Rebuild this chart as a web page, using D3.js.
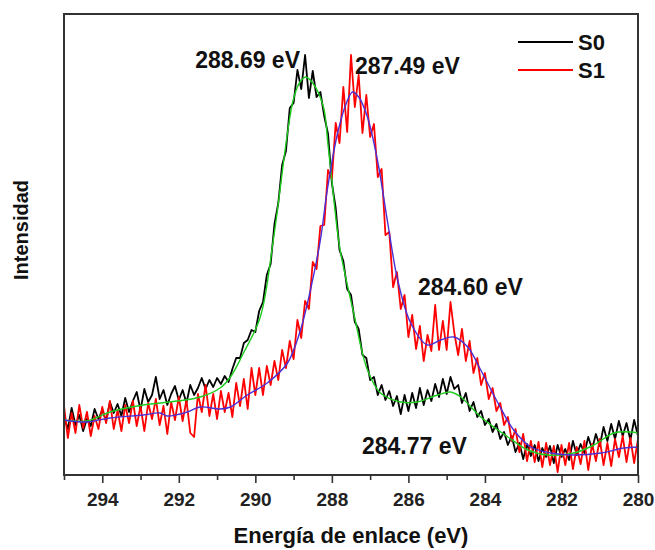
<!DOCTYPE html>
<html>
<head>
<meta charset="utf-8">
<script src="https://cdn.jsdelivr.net/npm/d3@7"></script>
<style>
    body { margin: 0; background: #fff; }
    svg { font-family: "Liberation Sans", Arial, sans-serif; font-weight: bold; }
    .axis text { font-size: 19px; font-weight: bold; fill: #222; }
    .axis line { stroke: #333; stroke-width: 1.6; }
    .axis path { display: none; }
</style>
</head>
<body>
<div id="chart"></div>
<script>
// binding energy grid (eV), 0.1 eV step from 295 down to 280
var energy = d3.range(0, 151).map(function(i) { return +(295 - i * 0.1).toFixed(1); });

// S0 raw spectrum (a.u.)
var s0Raw = [
    58, 46, 67, 50, 60, 44, 56, 49, 66, 56,
    65, 54, 73, 62, 71, 59, 77, 63, 74, 83,
    65, 86, 73, 80, 98, 76, 85, 70, 81, 89,
    75, 85, 72, 90, 80, 87, 97, 86, 95, 88,
    97, 91, 99, 93, 106, 117, 117, 132, 135, 145,
    143, 164, 173, 200, 211, 251, 272, 310, 324, 367,
    372, 405, 386, 420, 377, 404, 378, 383, 359, 341,
    292, 267, 225, 214, 186, 180, 153, 146, 120, 117,
    95, 98, 80, 90, 75, 84, 69, 79, 61, 80,
    64, 82, 67, 87, 70, 85, 74, 91, 78, 96,
    81, 98, 86, 90, 72, 82, 64, 73, 58, 64,
    50, 56, 43, 51, 36, 43, 30, 39, 23, 32,
    16, 31, 19, 30, 14, 27, 18, 29, 12, 30,
    18, 26, 15, 34, 20, 31, 22, 38, 26, 41,
    29, 48, 34, 51, 36, 54, 39, 52, 35, 55,
    39
];

// S1 raw spectrum (a.u.)
var s1Raw = [
    69, 37, 62, 42, 70, 47, 63, 39, 59, 46,
    68, 52, 74, 46, 65, 44, 70, 52, 74, 49,
    69, 44, 72, 56, 76, 50, 69, 41, 73, 55,
    78, 54, 75, 42, 38, 81, 63, 90, 59, 81,
    56, 84, 63, 82, 58, 92, 69, 96, 66, 107,
    80, 107, 80, 109, 90, 114, 95, 125, 107, 134,
    116, 155, 137, 174, 166, 213, 206, 249, 250, 305,
    296, 352, 332, 388, 343, 420, 368, 400, 342, 380,
    338, 351, 298, 306, 240, 243, 188, 203, 166, 180,
    138, 160, 126, 149, 114, 140, 124, 170, 125, 154,
    125, 173, 142, 120, 146, 114, 134, 102, 117, 90,
    102, 76, 87, 64, 72, 50, 58, 34, 46, 23,
    41, 14, 34, 13, 33, 8, 32, 10, 29, 3,
    30, 10, 32, 6, 28, 11, 34, 5, 31, 14,
    36, 10, 32, 9, 36, 18, 39, 13, 37, 12,
    36
];

// fitted envelopes
var s0FitE = [295.0, 294.4, 293.8, 292.93, 292.04, 291.44, 290.92, 290.65, 290.31, 289.87,
              289.53, 289.16, 289.01, 288.85, 288.69, 288.5, 288.22, 288.1, 287.85, 287.77,
              287.43, 287.07, 286.73, 286.2, 285.76, 285.24, 284.9, 284.63, 284.11, 283.4,
              282.88, 282.36, 281.68, 281.15, 280.63, 280.18, 280.0];
var s0FitI = [55, 54, 63, 70, 74, 78, 87, 98, 122, 158,
              235, 342, 375, 392, 398, 392, 368, 330, 242, 222,
              162, 105, 82, 73, 73, 80, 83, 78, 58, 38,
              25, 20, 22, 30, 42, 43, 42];

var s1FitE = [295.0, 294.4, 293.8, 292.93, 292.49, 292.3, 291.78, 291.44, 290.92, 290.65,
              290.21, 289.69, 289.16, 288.82, 288.56, 288.3, 288.12, 287.85, 287.62, 287.46,
              287.3, 287.07, 286.81, 286.54, 286.28, 285.94, 285.5, 285.16, 284.82, 284.45,
              284.11, 283.66, 283.25, 282.8, 282.28, 281.68, 280.97, 280.37, 280.0];
var s1FitI = [55, 53, 57, 60, 62, 59, 63, 68, 66, 68,
              80, 92, 112, 145, 185, 235, 285, 342, 372, 383,
              378, 358, 315, 252, 195, 152, 130, 135, 138, 128,
              105, 72, 45, 28, 22, 20, 22, 27, 28];

var majorTicks = [294, 292, 290, 288, 286, 284, 282, 280];
var minorTicks = [295, 293, 291, 289, 287, 285, 283, 281];

var peakLabels = [
    { text: "288.69 eV", x: 300, y: 68, anchor: "end" },
    { text: "287.49 eV", x: 355, y: 74, anchor: "start" },
    { text: "284.60 eV", x: 418, y: 295, anchor: "start" },
    { text: "284.77 eV", x: 362, y: 454, anchor: "start" }
];

var series = [
    { name: "S0", color: "#000000" },
    { name: "S1", color: "#ff0000" }
];

var W = 655, H = 550,
    pLeft = 64, pRight = 638, pTop = 14, pBottom = 475;

var svg = d3.select("#chart").append("svg")
    .attr("width", W)
    .attr("height", H);

var x = d3.scaleLinear().domain([295, 280]).range([pLeft, pRight]),
    y = d3.scaleLinear().domain([0, 461]).range([pBottom, pTop]);

svg.append("clipPath").attr("id", "plotclip")
    .append("rect")
    .attr("x", pLeft).attr("y", pTop)
    .attr("width", pRight - pLeft).attr("height", pBottom - pTop);

var plot = svg.append("g").attr("clip-path", "url(#plotclip)");

function rawLine(vals) {
    return d3.line()
        .x(function(d, i) { return x(energy[i]); })
        .y(function(d) { return y(d); })(vals);
}
function fitLine(es, is) {
    return d3.line()
        .curve(d3.curveCatmullRom.alpha(0.5))
        .x(function(d, i) { return x(es[i]); })
        .y(function(d) { return y(d); })(is);
}

plot.append("path")
    .attr("d", rawLine(s0Raw))
    .attr("fill", "none").attr("stroke", "#000").attr("stroke-width", 1.8)
    .attr("stroke-linejoin", "round");

plot.append("path")
    .attr("d", rawLine(s1Raw))
    .attr("fill", "none").attr("stroke", "#ff0000").attr("stroke-width", 1.8)
    .attr("stroke-linejoin", "round");

plot.append("path")
    .attr("d", fitLine(s0FitE, s0FitI))
    .attr("fill", "none").attr("stroke", "#1fcc1f").attr("stroke-width", 1.4);

plot.append("path")
    .attr("d", fitLine(s1FitE, s1FitI))
    .attr("fill", "none").attr("stroke", "#4a2fd6").attr("stroke-width", 1.4);

// axis ticks (major + minor)
svg.append("g")
    .attr("class", "axis")
    .attr("transform", "translate(0," + pBottom + ")")
    .call(d3.axisBottom(x).tickValues(majorTicks).tickSize(8).tickPadding(10)
        .tickFormat(d3.format("d")));

svg.append("g")
    .attr("class", "axis")
    .attr("transform", "translate(0," + pBottom + ")")
    .call(d3.axisBottom(x).tickValues(minorTicks).tickSize(5).tickFormat(""));

// frame
svg.append("rect")
    .attr("x", pLeft).attr("y", pTop)
    .attr("width", pRight - pLeft).attr("height", pBottom - pTop)
    .attr("fill", "none").attr("stroke", "#333").attr("stroke-width", 2);

// axis titles
svg.append("text")
    .attr("x", (pLeft + pRight) / 2).attr("y", 543)
    .attr("text-anchor", "middle")
    .style("font-size", "22px").attr("fill", "#111")
    .text("Energía de enlace (eV)");

svg.append("text")
    .attr("transform", "translate(28,230) rotate(-90)")
    .attr("text-anchor", "middle")
    .style("font-size", "20px").attr("fill", "#111")
    .text("Intensidad");

// peak labels
svg.selectAll(".peak").data(peakLabels).enter()
    .append("text")
    .attr("class", "peak")
    .attr("x", function(d) { return d.x; })
    .attr("y", function(d) { return d.y; })
    .attr("text-anchor", function(d) { return d.anchor; })
    .style("font-size", "23px").attr("fill", "#111")
    .text(function(d) { return d.text; });

// legend
var leg = svg.selectAll(".leg").data(series).enter()
    .append("g")
    .attr("class", "leg")
    .attr("transform", function(d, i) { return "translate(518," + (42 + i * 28) + ")"; });

leg.append("line")
    .attr("x1", 0).attr("x2", 55).attr("y1", 0).attr("y2", 0)
    .attr("stroke", function(d) { return d.color; })
    .attr("stroke-width", 2);

leg.append("text")
    .attr("x", 60).attr("y", 8)
    .style("font-size", "22px").attr("fill", "#111")
    .text(function(d) { return d.name; });
</script>
</body>
</html>
